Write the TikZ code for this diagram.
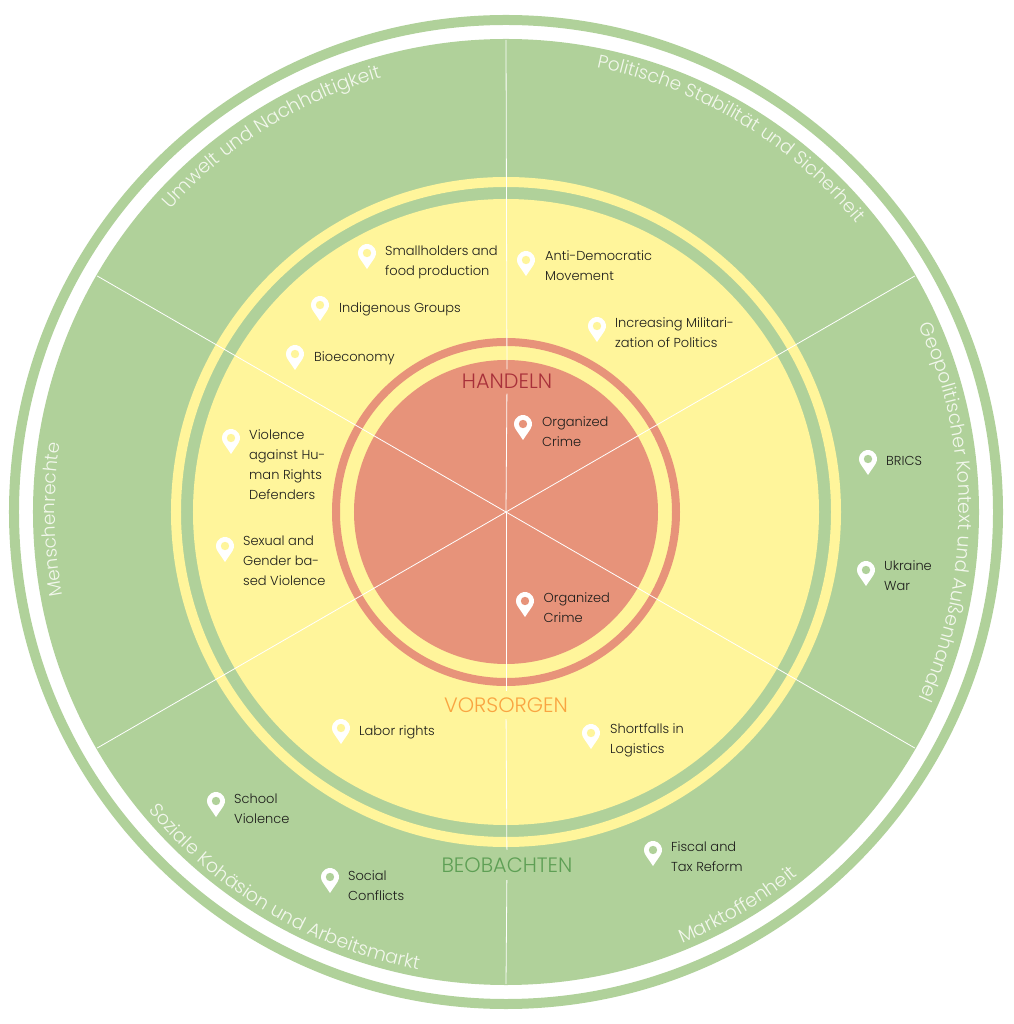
\documentclass[tikz,border=0pt]{standalone}
\usepackage{fontspec}
\setmainfont{Poppins}[UprightFont=* Light]
\usetikzlibrary{decorations.text}
\definecolor{kgreen}{HTML}{B0D19A}
\definecolor{kyellow}{HTML}{FFF59B}
\definecolor{kred}{HTML}{E7937A}
\definecolor{kink}{HTML}{1D1D1B}
\definecolor{kdarkred}{HTML}{A8303A}
\definecolor{korange}{HTML}{F9A441}
\definecolor{kdarkgreen}{HTML}{5E9F55}
\definecolor{kpale}{HTML}{F2F7EC}
\newcommand{\ringfont}[1]{\fontsize{#1}{#1}\selectfont\color{kpale}}
\tikzset{pics/pin/.style={code={
  \fill[white] (-34:9) arc (-34:214:9) -- (0,-16) -- cycle;
  \fill[#1] (0,0) circle (4.2);
}}}

\begin{document}
\begin{tikzpicture}[x=1pt,y=1pt]

\tikzstyle{lbl} = [anchor=west, align=left, inner sep=0pt, text=kink, font=\fontsize{13}{20}\selectfont]
\tikzstyle{phase} = [inner sep=0pt, font=\fontsize{20.8}{22}\selectfont]
\tikzstyle{spoke} = [white, line width=0.8pt]
\tikzstyle{ringtext} = [decorate]

\useasboundingbox (-506,-512) rectangle (507,512);

% Discs and rings
\draw[kgreen, line width=10pt] (0,0) circle (492);
\fill[kgreen] (0,0) circle (473);
\draw[kyellow, line width=10pt] (0,0) circle (330);
\fill[kyellow] (0,0) circle (313);
\draw[kred, line width=8pt] (0,0) circle (170);
\fill[kred] (0,0) circle (152);

% Phases
\node[phase, text=kdarkred, minimum height=24pt] (handeln) at (1,130.5) {HANDELN};
\node[phase, text=korange, minimum height=28pt] (vorsorgen) at (0,-193) {VORSORGEN};
\node[phase, text=kdarkgreen, minimum height=30pt] (beobachten) at (1,-353) {BEOBACHTEN};

% Spokes
\foreach \ang in {30,150,210,330}
  \draw[spoke] (0,0) -- (\ang:472);
\draw[spoke] (0,0) -- (handeln);
\draw[spoke] (handeln) -- (90:472);
\draw[spoke] (0,0) -- (vorsorgen);
\draw[spoke] (vorsorgen) -- (beobachten);
\draw[spoke] (beobachten) -- (-90:472);

% Ring titles
\path[ringtext, decoration={text along path, text align=center, text={|\ringfont{19}|Umwelt und Nachhaltigkeit}}] (152:452) arc (152:92:452);
\path[ringtext, decoration={text along path, text align=center, text={|\ringfont{18.6}|Politische Stabilität und Sicherheit}}] (89:454) arc (89:29:454);
\path[ringtext, decoration={text along path, text align=center, text={|\ringfont{19}|Geopolitischer Kontext und Außenhandel}}] (30:453) arc (30:-30:453);
\path[ringtext, decoration={text along path, text align=center, text={|\ringfont{19}|Marktoffenheit}}] (-79.5:466) arc (-79.5:-39.5:466);
\path[ringtext, decoration={text along path, text align=center, text={|\ringfont{18.8}|Soziale Kohäsion und Arbeitsmarkt}}] (210:466) arc (210:269:466);
\path[ringtext, decoration={text along path, text align=center, text={|\ringfont{18.4}|Menschenrechte}}] (200.5:451) arc (200.5:161.5:451);

% Handeln
\pic at (17,88) {pin=kred};
\node[lbl] (crimeone) at (36,80) {Organized\\Crime};
\pic at (19,-89) {pin=kred};
\node[lbl] (crimetwo) at (37.5,-96) {Organized\\Crime};

% Vorsorgen
\pic at (-139,259) {pin=kyellow};
\node[lbl] (smallholders) at (-121,250) {Smallholders and\\food production};
\pic at (20,252) {pin=kyellow};
\node[lbl] (antidemo) at (39,246) {Anti-Democratic\\Movement};
\pic at (-186,207) {pin=kyellow};
\node[lbl] (indigenous) at (-167,202.5) {Indigenous Groups};
\pic at (91,186) {pin=kyellow};
\node[lbl] (militar) at (109,179) {Increasing Militari-\\zation of Politics};
\pic at (-211,158) {pin=kyellow};
\node[lbl] (bioeconomy) at (-192,153.5) {Bioeconomy};
\pic at (-275,74) {pin=kyellow};
\node[lbl] (defenders) at (-257,47) {Violence\\against Hu-\\man Rights\\Defenders};
\pic at (-281,-34) {pin=kyellow};
\node[lbl] (gender) at (-263,-49) {Sexual and\\Gender ba-\\sed Violence};
\pic at (-165,-216) {pin=kyellow};
\node[lbl] (labor) at (-147,-220) {Labor rights};
\pic at (85,-221) {pin=kyellow};
\node[lbl] (logistics) at (104,-228) {Shortfalls in\\Logistics};

% Beobachten
\pic at (-290,-289) {pin=kgreen};
\node[lbl] (school) at (-272,-297) {School\\Violence};
\pic at (-176,-365) {pin=kgreen};
\node[lbl] (conflicts) at (-158,-374) {Social\\Conflicts};
\pic at (147,-338) {pin=kgreen};
\node[lbl] (fiscal) at (165,-345) {Fiscal and\\Tax Reform};
\pic at (362,53) {pin=kgreen};
\node[lbl] (brics) at (380,51) {BRICS};
\pic at (360,-58) {pin=kgreen};
\node[lbl] (ukraine) at (378,-64) {Ukraine\\War};

\end{tikzpicture}
\end{document}
